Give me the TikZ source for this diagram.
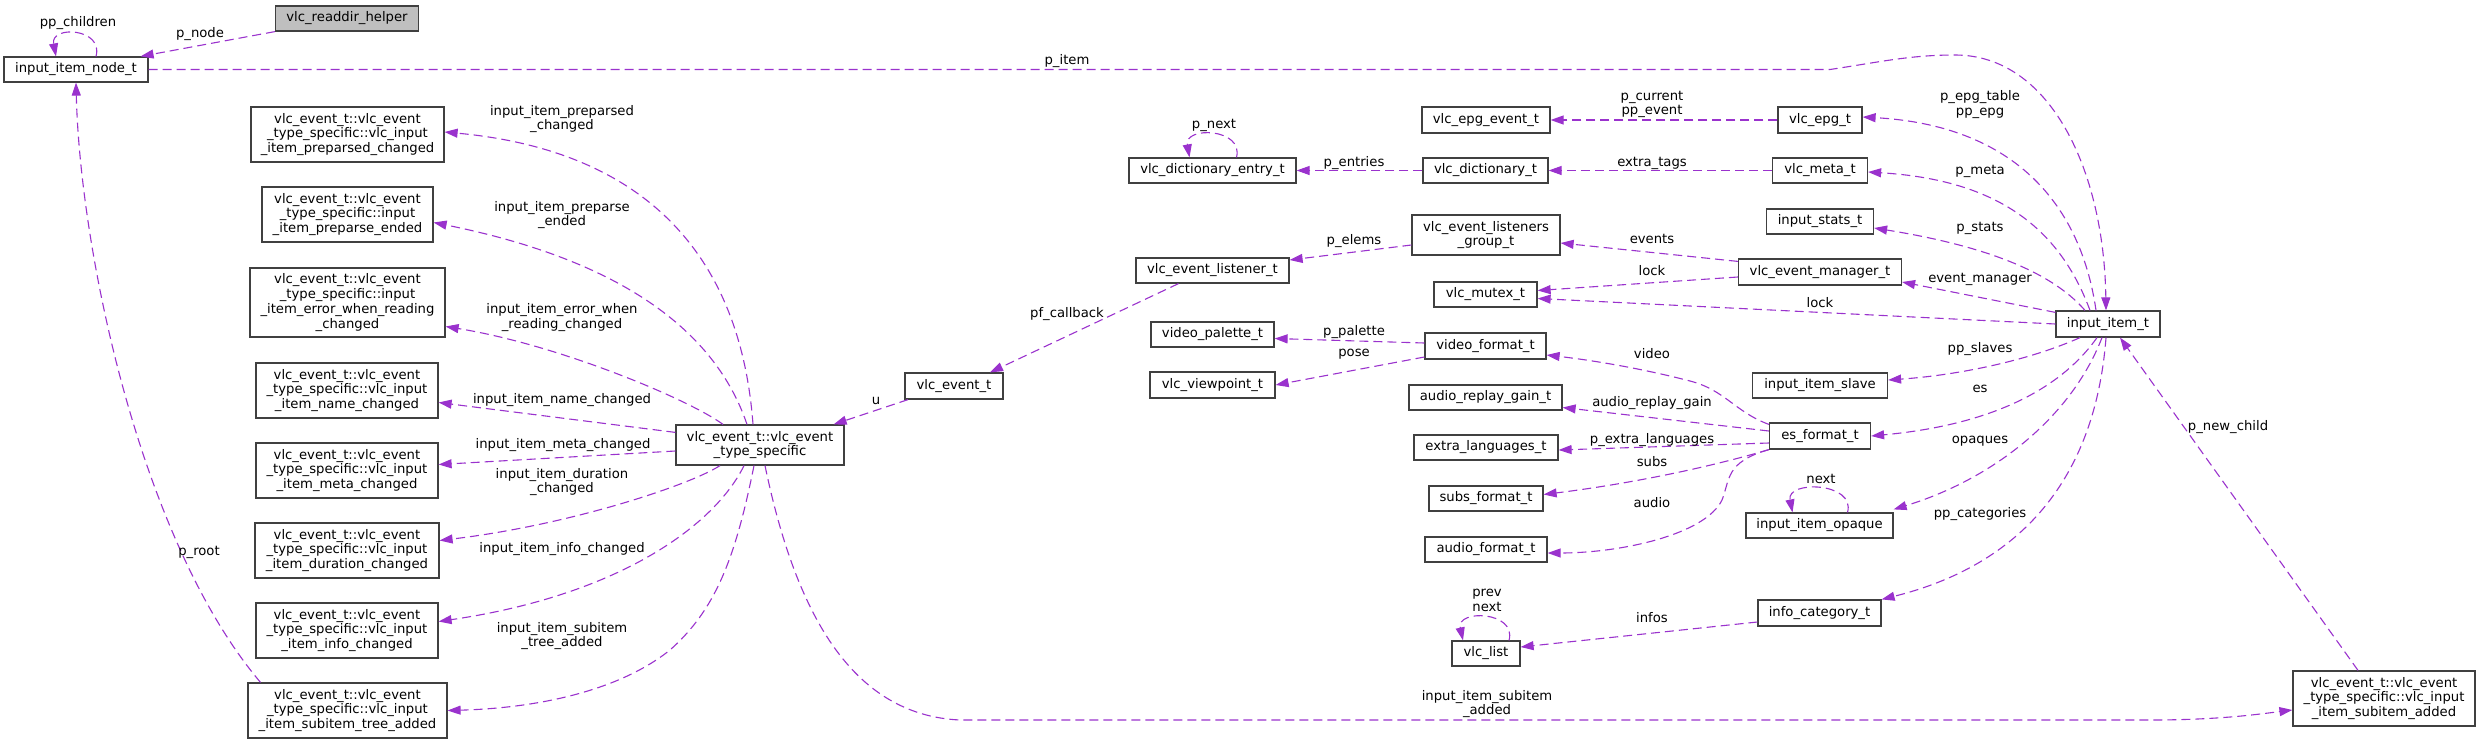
\documentclass[tikz,border=0pt]{standalone}
\usepackage{fontspec}
\setmainfont{DejaVu Sans}
\usepackage{tikz}
\usetikzlibrary{arrows.meta}
\definecolor{edgepurple}{RGB}{154,50,205}
\definecolor{boxborder}{RGB}{64,64,64}
\definecolor{helperfill}{RGB}{191,191,191}
\newcommand{\dvfont}{\fontsize{13.2}{14.7}\selectfont}

\begin{document}
\begin{tikzpicture}[x=1pt,y=1pt,yscale=-1,xscale=1,
  classbox/.style={draw=boxborder,line width=1.2pt,fill=white,inner sep=0pt,align=center,font=\dvfont},
  memberlabel/.style={inner sep=0pt,align=center,font=\dvfont},
  reference/.style={draw=edgepurple,line width=1.1pt,dash pattern=on 9pt off 5pt,-{Triangle[length=13pt,width=9pt]}}]
%uncomment if require: \path (0,744); %set diagram left start at 0, and has height of 744
\useasboundingbox (0,0) rectangle (2480,744);

%Shape: Rectangle [classes, left column]
\draw (347,18.5) node [classbox,fill=helperfill,minimum width=143,minimum height=25] (readdir) {vlc\_readdir\_helper};
\draw (76,69.5) node [classbox,minimum width=144,minimum height=25] (itemnode) {input\_item\_node\_t};
\draw (347.5,134.5) node [classbox,minimum width=193,minimum height=55] (preparsed) {vlc\_event\_t::vlc\_event\\\_type\_specific::vlc\_input\\\_item\_preparsed\_changed};
\draw (347.5,214.5) node [classbox,minimum width=171,minimum height=55] (preparseend) {vlc\_event\_t::vlc\_event\\\_type\_specific::input\\\_item\_preparse\_ended};
\draw (347.5,302.5) node [classbox,minimum width=195,minimum height=69] (errread) {vlc\_event\_t::vlc\_event\\\_type\_specific::input\\\_item\_error\_when\_reading\\\_changed};
\draw (347,390.5) node [classbox,minimum width=182,minimum height=55] (namechg) {vlc\_event\_t::vlc\_event\\\_type\_specific::vlc\_input\\\_item\_name\_changed};
\draw (347,470.5) node [classbox,minimum width=182,minimum height=55] (metachg) {vlc\_event\_t::vlc\_event\\\_type\_specific::vlc\_input\\\_item\_meta\_changed};
\draw (347,550.5) node [classbox,minimum width=184,minimum height=55] (durchg) {vlc\_event\_t::vlc\_event\\\_type\_specific::vlc\_input\\\_item\_duration\_changed};
\draw (347,630.5) node [classbox,minimum width=182,minimum height=55] (infochg) {vlc\_event\_t::vlc\_event\\\_type\_specific::vlc\_input\\\_item\_info\_changed};
\draw (347.5,710.5) node [classbox,minimum width=199,minimum height=55] (treeadded) {vlc\_event\_t::vlc\_event\\\_type\_specific::vlc\_input\\\_item\_subitem\_tree\_added};

%Shape: Rectangle [classes, middle]
\draw (760,445) node [classbox,minimum width=168,minimum height=40] (typespec) {vlc\_event\_t::vlc\_event\\\_type\_specific};
\draw (954,386) node [classbox,minimum width=98,minimum height=26] (event) {vlc\_event\_t};
\draw (1212.5,170.5) node [classbox,minimum width=167,minimum height=25] (dictentry) {vlc\_dictionary\_entry\_t};
\draw (1212.5,270.5) node [classbox,minimum width=153,minimum height=25] (listener) {vlc\_event\_listener\_t};
\draw (1212.5,334.5) node [classbox,minimum width=123,minimum height=25] (palette) {video\_palette\_t};
\draw (1212.5,385) node [classbox,minimum width=125,minimum height=26] (viewpoint) {vlc\_viewpoint\_t};
\draw (1486,120) node [classbox,minimum width=128,minimum height=26] (epgevent) {vlc\_epg\_event\_t};
\draw (1485.5,170.5) node [classbox,minimum width=125,minimum height=25] (dict) {vlc\_dictionary\_t};
\draw (1486,235) node [classbox,minimum width=148,minimum height=40] (lgroup) {vlc\_event\_listeners\\\_group\_t};
\draw (1485.5,294.5) node [classbox,minimum width=103,minimum height=25] (mutex) {vlc\_mutex\_t};
\draw (1485.5,346) node [classbox,minimum width=121,minimum height=26] (videofmt) {video\_format\_t};
\draw (1485.5,397.5) node [classbox,minimum width=153,minimum height=25] (argain) {audio\_replay\_gain\_t};
\draw (1486,447.5) node [classbox,minimum width=144,minimum height=25] (extralang) {extra\_languages\_t};
\draw (1486,498.5) node [classbox,minimum width=114,minimum height=25] (subsfmt) {subs\_format\_t};
\draw (1486,549.5) node [classbox,minimum width=122,minimum height=25] (audiofmt) {audio\_format\_t};
\draw (1486,653.5) node [classbox,minimum width=68,minimum height=25] (vlclist) {vlc\_list};

%Shape: Rectangle [classes, right]
\draw (1820,120) node [classbox,minimum width=84,minimum height=26] (epg) {vlc\_epg\_t};
\draw (1820,170.5) node [classbox,minimum width=95,minimum height=25] (meta) {vlc\_meta\_t};
\draw (1820,221.5) node [classbox,minimum width=107,minimum height=25] (stats) {input\_stats\_t};
\draw (1820,272) node [classbox,minimum width=163,minimum height=26] (evmgr) {vlc\_event\_manager\_t};
\draw (1820,385.5) node [classbox,minimum width=135,minimum height=25] (slave) {input\_item\_slave};
\draw (1820,436) node [classbox,minimum width=101,minimum height=26] (esfmt) {es\_format\_t};
\draw (1819.5,525.5) node [classbox,minimum width=147,minimum height=25] (opaque) {input\_item\_opaque};
\draw (1819.5,613) node [classbox,minimum width=123,minimum height=26] (infocat) {info\_category\_t};
\draw (2108,324) node [classbox,minimum width=104,minimum height=26] (item) {input\_item\_t};
\draw (2384,698.5) node [classbox,minimum width=182,minimum height=55] (subadded) {vlc\_event\_t::vlc\_event\\\_type\_specific::vlc\_input\\\_item\_subitem\_added};

\coordinate (pitembend) at (1830,69.5);
\coordinate (subaddedrun) at (2150,720);

%Straight Lines
\draw [reference] (readdir.south west) -- ([xshift=-8pt]itemnode.north east);
\draw [reference] ([yshift=8pt]typespec.north west) -- ([yshift=12pt]namechg.east);
\draw [reference] ([yshift=6pt]typespec.west) -- ([yshift=-6pt]metachg.east);
\draw [reference] ([xshift=-46pt]event.south) -- ([xshift=-11pt]typespec.north east);
\draw [reference] ([xshift=-34pt]listener.south) -- ([xshift=36pt]event.north);
\draw [reference] ([yshift=10pt]lgroup.west) -- ([yshift=-10.5pt]listener.east);
\draw [reference] (dict.west) -- (dictentry.east);
\draw [reference] (epg.west) -- (epgevent.east);
\draw [reference] (meta.west) -- (dict.east);
\draw [reference] ([yshift=3pt]evmgr.north west) -- ([yshift=8pt]lgroup.east);
\draw [reference] ([yshift=5pt]evmgr.west) -- ([yshift=-4pt]mutex.east);
\draw [reference] (item.west) -- ([yshift=4pt]mutex.east);
\draw [reference] ([yshift=2pt]item.north west) -- ([yshift=10pt]evmgr.east);
\draw [reference] ([yshift=-3pt]videofmt.west) -- ([yshift=4pt]palette.east);
\draw [reference] ([yshift=11pt]videofmt.west) -- (viewpoint.east);
\draw [reference] ([yshift=-5pt]esfmt.west) -- ([yshift=10pt]argain.east);
\draw [reference] ([yshift=7pt]esfmt.west) -- ([yshift=2.5pt]extralang.east);
\draw [reference] ([yshift=9pt]infocat.west) -- ([yshift=-6.5pt]vlclist.east);
\draw [reference] ([xshift=-26pt]subadded.north) -- ([xshift=12pt]item.south);

%Curve Lines
\draw [reference] ([xshift=20pt]itemnode.north) .. controls (104,28) and (50,25) .. ([xshift=-20pt]itemnode.north);
\draw [reference] ([xshift=-87pt]treeadded.north) .. controls (140,540) and (80,250) .. (itemnode.south);
\draw [reference] (itemnode.east) -- (pitembend) .. controls (1880,62) and (1910,55) .. (1955,55) .. controls (2050,55) and (2104,170) .. ([xshift=-2pt]item.north);
\draw [reference] ([xshift=-7pt]typespec.north) .. controls (740,250) and (640,150) .. ([yshift=-2.5pt]preparsed.east);
\draw [reference] ([xshift=-13pt]typespec.north) .. controls (715,330) and (620,260) .. ([yshift=8pt]preparseend.east);
\draw [reference] ([xshift=-37pt]typespec.north) .. controls (690,400) and (560,345) .. ([yshift=24pt]errread.east);
\draw [reference] ([xshift=-40pt]typespec.south) .. controls (690,485) and (570,525) .. ([yshift=-10pt]durchg.east);
\draw [reference] ([xshift=-16pt]typespec.south) .. controls (715,525) and (620,595) .. ([yshift=-9pt]infochg.east);
\draw [reference] ([xshift=-6pt]typespec.south) .. controls (735,560) and (715,610) .. (670,650) .. controls (620,690) and (540,708) .. (treeadded.east);
\draw [reference] ([xshift=5pt]typespec.south) .. controls (795,610) and (850,715) .. (960,720) -- (subaddedrun) .. controls (2220,720) and (2260,714) .. ([yshift=11.5pt]subadded.west);
\draw [reference] ([xshift=24pt]dictentry.north) .. controls (1244,128) and (1184,126) .. ([xshift=-23pt]dictentry.north);
\draw [reference] ([yshift=2pt]esfmt.north west) .. controls (1735,412) and (1725,390) .. (1690,381) .. controls (1640,368) and (1590,360) .. ([yshift=9pt]videofmt.east);
\draw [reference] (esfmt.south west) .. controls (1700,470) and (1620,485) .. ([yshift=-4pt]subsfmt.east);
\draw [reference] (esfmt.south west) .. controls (1725,462) and (1730,480) .. (1722,500) .. controls (1705,535) and (1620,553) .. ([yshift=3.5pt]audiofmt.east);
\draw [reference] ([xshift=28pt]opaque.north) .. controls (1856,482) and (1786,480) .. ([xshift=-27pt]opaque.north);
\draw [reference] ([xshift=23pt]vlclist.north) .. controls (1517,611) and (1456,609) .. ([xshift=-23pt]vlclist.north);
\draw [reference] ([xshift=-12pt]item.north) .. controls (2080,200) and (2010,125) .. ([yshift=-3pt]epg.east);
\draw [reference] ([xshift=-18pt]item.north) .. controls (2060,230) and (2000,180) .. ([yshift=1.5pt]meta.east);
\draw [reference] ([xshift=-23pt]item.north) .. controls (2050,270) and (1980,245) .. ([yshift=6.5pt]stats.east);
\draw [reference] ([xshift=-28pt]item.south) .. controls (2030,360) and (1960,375) .. ([yshift=-5.5pt]slave.east);
\draw [reference] ([xshift=-11pt]item.south) .. controls (2060,390) and (1990,425) .. (esfmt.east);
\draw [reference] ([xshift=-6pt]item.south) .. controls (2070,420) and (1990,480) .. ([yshift=-3pt]opaque.north east);
\draw [reference] ([xshift=-2pt]item.south) .. controls (2095,480) and (2020,565) .. (infocat.north east);

% Text Node
\draw (78,23) node [memberlabel] (lblchildren) {pp\_children};
\draw (200,34) node [memberlabel] (lblnode) {p\_node};
\draw (199,552) node [memberlabel] (lblroot) {p\_root};
\draw (1067,61) node [memberlabel] (lblitem) {p\_item};
\draw (562,119) node [memberlabel] (lblpreparsed) {input\_item\_preparsed\\\_changed};
\draw (562,215) node [memberlabel] (lblpreparse) {input\_item\_preparse\\\_ended};
\draw (562,317.5) node [memberlabel] (lblerror) {input\_item\_error\_when\\\_reading\_changed};
\draw (562,400) node [memberlabel] (lblname) {input\_item\_name\_changed};
\draw (563,445) node [memberlabel] (lblmeta) {input\_item\_meta\_changed};
\draw (562,482) node [memberlabel] (lblduration) {input\_item\_duration\\\_changed};
\draw (562,549) node [memberlabel] (lblinfo) {input\_item\_info\_changed};
\draw (562,636) node [memberlabel] (lbltree) {input\_item\_subitem\\\_tree\_added};
\draw (876,401) node [memberlabel] (lblu) {u};
\draw (1067,314) node [memberlabel] (lblcallback) {pf\_callback};
\draw (1214,125) node [memberlabel] (lblpnext) {p\_next};
\draw (1354,163) node [memberlabel] (lblentries) {p\_entries};
\draw (1354,241) node [memberlabel] (lblelems) {p\_elems};
\draw (1354,332) node [memberlabel] (lblpalette) {p\_palette};
\draw (1354,354) node [memberlabel] (lblpose) {pose};
\draw (1652,104.5) node [memberlabel] (lblcurrent) {p\_current\\pp\_event};
\draw (1652,163) node [memberlabel] (lbltags) {extra\_tags};
\draw (1652,239) node [memberlabel] (lblevents) {events};
\draw (1652,271) node [memberlabel] (lbllockmgr) {lock};
\draw (1652,354) node [memberlabel] (lblvideo) {video};
\draw (1652,403) node [memberlabel] (lblgain) {audio\_replay\_gain};
\draw (1652,440) node [memberlabel] (lbllang) {p\_extra\_languages};
\draw (1652,462) node [memberlabel] (lblsubs) {subs};
\draw (1652,503) node [memberlabel] (lblaudio) {audio};
\draw (1652,618) node [memberlabel] (lblinfos) {infos};
\draw (1487,600.5) node [memberlabel] (lblprevnext) {prev\\next};
\draw (1487,704) node [memberlabel] (lbladded) {input\_item\_subitem\\\_added};
\draw (1820,303) node [memberlabel] (lbllockitem) {lock};
\draw (1821,479) node [memberlabel] (lblnext) {next};
\draw (1980,104.5) node [memberlabel] (lblepg) {p\_epg\_table\\pp\_epg};
\draw (1980,171) node [memberlabel] (lblpmeta) {p\_meta};
\draw (1980,228) node [memberlabel] (lblstats) {p\_stats};
\draw (1980,279) node [memberlabel] (lblmanager) {event\_manager};
\draw (1980,349) node [memberlabel] (lblslaves) {pp\_slaves};
\draw (1980,389) node [memberlabel] (lbles) {es};
\draw (1980,441) node [memberlabel] (lblopaques) {opaques};
\draw (1980,514) node [memberlabel] (lblcategories) {pp\_categories};
\draw (2228,427) node [memberlabel] (lblchild) {p\_new\_child};

\end{tikzpicture}
\end{document}
